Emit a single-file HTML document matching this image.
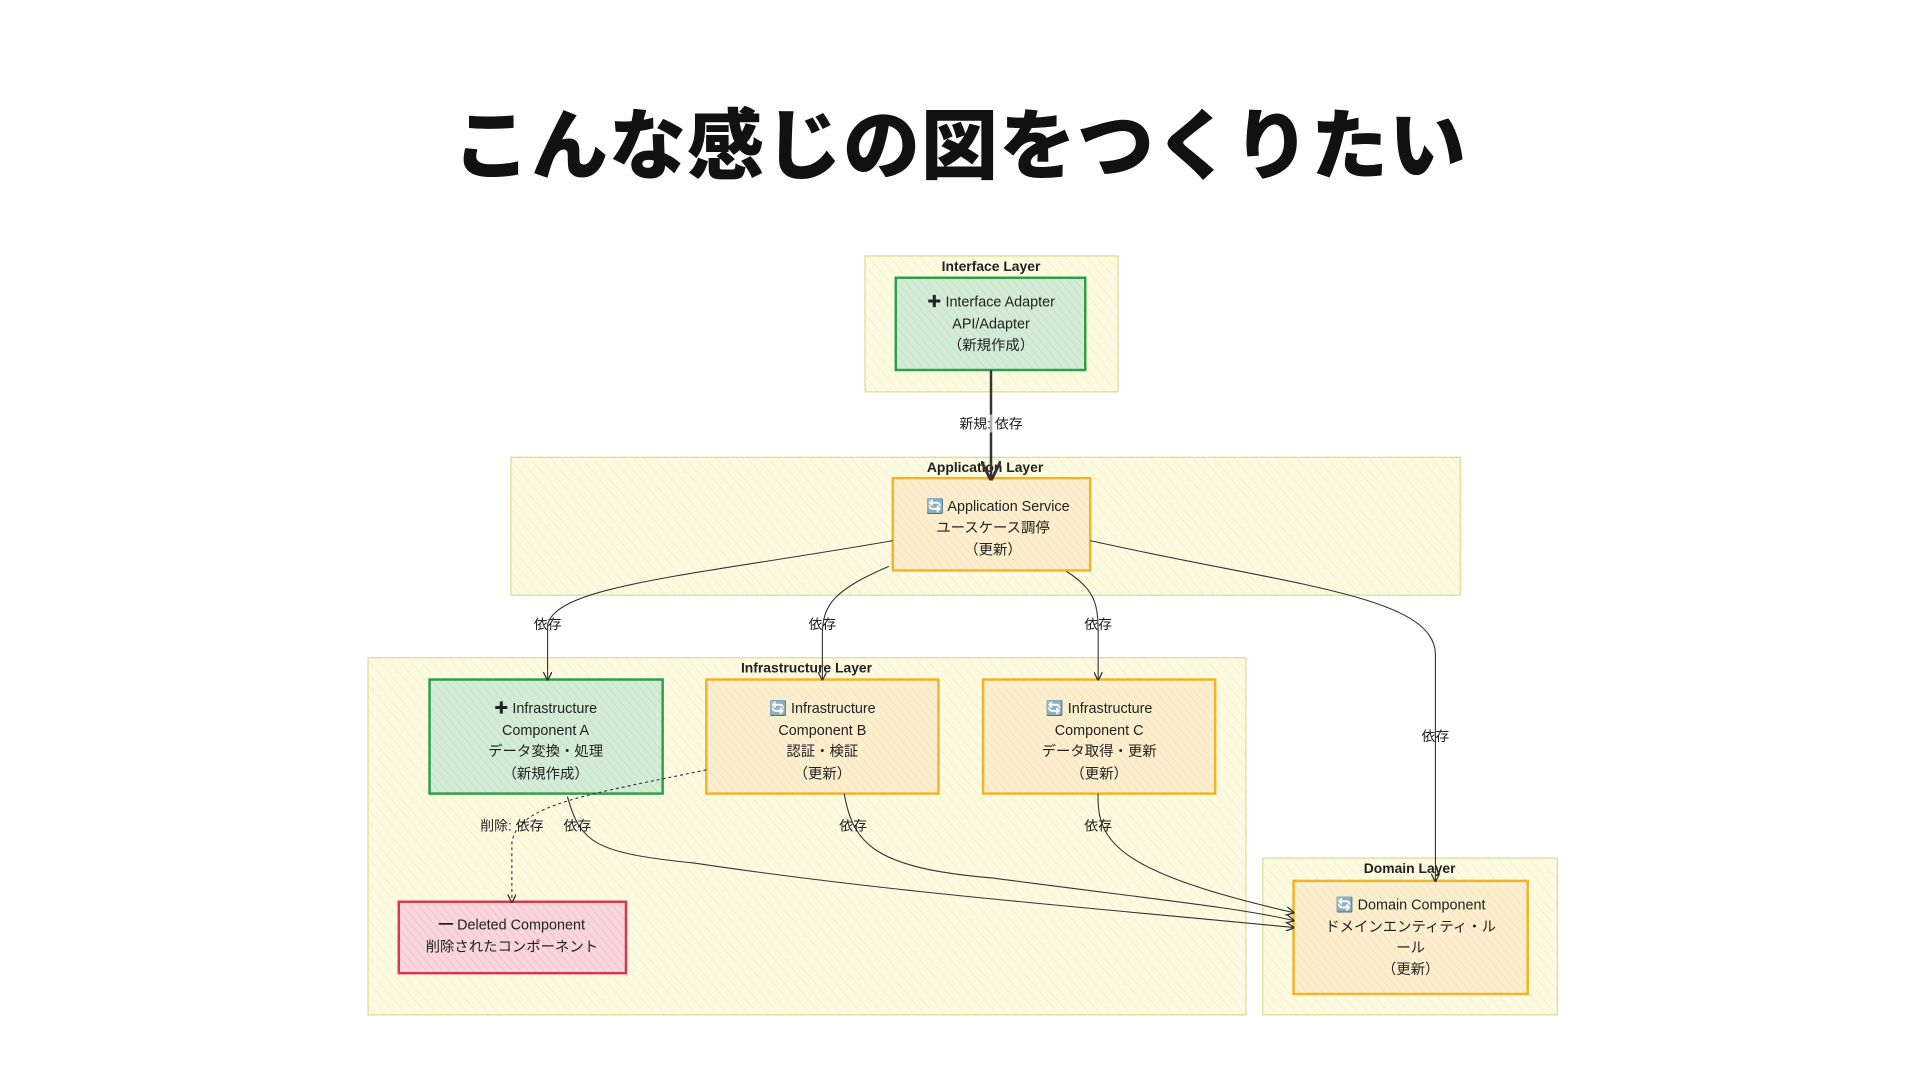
<!DOCTYPE html>
<html><head><meta charset="utf-8"><style>
body{margin:0;width:1920px;height:1080px;background:#fff;overflow:hidden;font-family:"Liberation Sans","Noto Sans CJK JP",sans-serif;}
h1{position:absolute;left:0;width:1920px;top:85px;margin:0;text-align:center;font-size:77px;font-weight:900;color:#111;font-family:"Noto Sans CJK JP",sans-serif;letter-spacing:1px;}
svg{position:absolute;left:0;top:0}
text{font-family:"Liberation Sans","Noto Sans CJK JP",sans-serif;fill:#222}
</style></head><body>
<h1>こんな感じの図をつくりたい</h1>
<svg width="1920" height="1080">
<defs>
<pattern id="hy" width="8" height="8" patternUnits="userSpaceOnUse" patternTransform="rotate(-40)"><rect width="8" height="8" fill="#fcfbe2"/><line x1="0" y1="0" x2="0" y2="8" stroke="#f3f0c0" stroke-width="1.5"/></pattern>
<pattern id="hg" width="6" height="6" patternUnits="userSpaceOnUse" patternTransform="rotate(-40)"><rect width="6" height="6" fill="#d4ecd6"/><line x1="0" y1="0" x2="0" y2="6" stroke="#bfe0c3" stroke-width="1.5"/></pattern>
<pattern id="ho" width="6" height="6" patternUnits="userSpaceOnUse" patternTransform="rotate(-40)"><rect width="6" height="6" fill="#fcefcf"/><line x1="0" y1="0" x2="0" y2="6" stroke="#f6e2b3" stroke-width="1.5"/></pattern>
<pattern id="hr" width="6" height="6" patternUnits="userSpaceOnUse" patternTransform="rotate(-40)"><rect width="6" height="6" fill="#f8d6dc"/><line x1="0" y1="0" x2="0" y2="6" stroke="#f0bfc8" stroke-width="1.5"/></pattern>
<marker id="ar" markerWidth="8" markerHeight="8" refX="7" refY="4" orient="auto"><path d="M0,0 L8,4 L0,8" fill="none" stroke="#333" stroke-width="1.2"/></marker>
</defs>
<g transform="scale(0.992)">
<g stroke="#dcdc9a" stroke-width="1.3" fill="url(#hy)">
<rect x="872" y="258" width="255" height="137"/>
<rect x="515" y="461" width="957" height="139"/>
<rect x="371" y="663" width="885" height="360"/>
<rect x="1273" y="865" width="297" height="158"/>
</g>
<g font-size="14" text-anchor="middle" font-weight="bold">
<text x="999" y="273">Interface Layer</text>
<text x="993" y="476">Application Layer</text>
<text x="813" y="678">Infrastructure Layer</text>
<text x="1421" y="880">Domain Layer</text>
</g>
<g stroke-width="2.5">
<rect x="903" y="280" width="191" height="93" fill="url(#hg)" stroke="#2e9e4a"/>
<rect x="900" y="482" width="199" height="93" fill="url(#ho)" stroke="#f0b429"/>
<rect x="433" y="685" width="235" height="115" fill="url(#hg)" stroke="#2e9e4a"/>
<rect x="712" y="685" width="234" height="115" fill="url(#ho)" stroke="#f0b429"/>
<rect x="991" y="685" width="234" height="115" fill="url(#ho)" stroke="#f0b429"/>
<rect x="402" y="909" width="229" height="72" fill="url(#hr)" stroke="#d6394f"/>
<rect x="1304" y="888" width="236" height="114" fill="url(#ho)" stroke="#f0b429"/>
</g>
<g fill="none" stroke="#333" stroke-width="1.1" marker-end="url(#ar)">
<path d="M999,373 L999,482" stroke-width="2.5"/>
<path d="M900,545 C700,580 560,590 552,630 L552,685"/>
<path d="M896,571 C840,595 829,610 829,640 L829,685"/>
<path d="M1075,576 C1105,595 1107,610 1107,640 L1107,685"/>
<path d="M1099,545 C1300,590 1447,600 1447,660 L1447,888"/>
<path d="M712,776 C600,800 520,810 516,850 L516,909" stroke-dasharray="3,3"/>
<path d="M572,803 C585,850 600,860 700,870 C900,900 1100,915 1304,935"/>
<path d="M851,800 C860,850 880,875 1000,885 C1150,905 1250,915 1304,928"/>
<path d="M1107,800 C1105,850 1130,880 1304,920"/>
</g>
<g font-size="14" text-anchor="middle">
<rect x="970" y="418" width="58" height="18" fill="#fff" opacity="0.6"/>
<text x="999" y="432">新規: 依存</text>
<text x="552" y="634">依存</text>
<text x="829" y="634">依存</text>
<text x="1107" y="634">依存</text>
<text x="1447" y="747">依存</text>
<text x="516" y="837">削除: 依存</text>
<text x="582" y="837">依存</text>
<text x="860" y="837">依存</text>
<text x="1107" y="837">依存</text>
</g>
<g font-size="14.5" text-anchor="middle">
<text x="999" y="309">✚ Interface Adapter</text>
<text x="999" y="331">API/Adapter</text>
<text x="999" y="353">（新規作成）</text>
<text x="1006" y="515">🔄 Application Service</text>
<text x="1001" y="537">ユースケース調停</text>
<text x="1001" y="559">（更新）</text>
<text x="550" y="719">✚ Infrastructure</text>
<text x="550" y="741">Component A</text>
<text x="550" y="762">データ変換・処理</text>
<text x="550" y="785">（新規作成）</text>
<text x="829" y="719">🔄 Infrastructure</text>
<text x="829" y="741">Component B</text>
<text x="829" y="762">認証・検証</text>
<text x="829" y="785">（更新）</text>
<text x="1108" y="719">🔄 Infrastructure</text>
<text x="1108" y="741">Component C</text>
<text x="1108" y="762">データ取得・更新</text>
<text x="1108" y="785">（更新）</text>
<text x="516" y="937">━ Deleted Component</text>
<text x="516" y="959">削除されたコンポーネント</text>
<text x="1422" y="917">🔄 Domain Component</text>
<text x="1422" y="939">ドメインエンティティ・ル</text>
<text x="1422" y="960">ール</text>
<text x="1422" y="982">（更新）</text>
</g>
</g>
</svg>
</body></html>
